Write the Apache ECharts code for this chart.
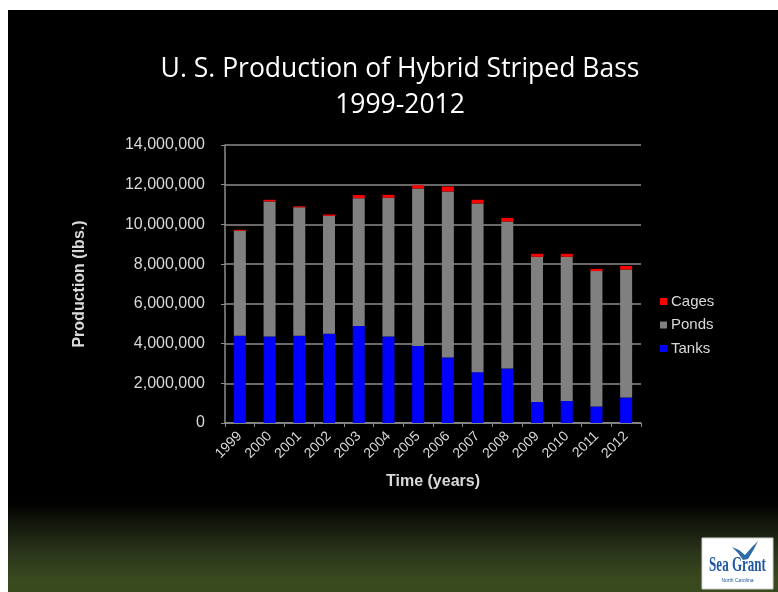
<!DOCTYPE html>
<html>
<head>
<meta charset="utf-8">
<script src="https://cdn.jsdelivr.net/npm/echarts@6/dist/echarts.min.js"></script>
<style>
  html, body { margin: 0; padding: 0; background: #fff; }
  #chart { width: 778px; height: 592px; }
</style>
</head>
<body>
<div id="chart"></div>
<script>
// Hybrid striped bass production by culture system, in pounds
const years = ['1999','2000','2001','2002','2003','2004','2005','2006','2007','2008','2009','2010','2011','2012'];
const tanks = [4400000, 4350000, 4400000, 4490000, 4890000, 4350000, 3880000, 3300000, 2560000, 2740000, 1060000, 1110000, 830000, 1280000];
const ponds = [5280000, 6810000, 6460000, 5940000, 6430000, 6990000, 7930000, 8360000, 8500000, 7410000, 7310000, 7260000, 6820000, 6450000];
const cages = [50000, 80000, 50000, 70000, 160000, 150000, 170000, 250000, 180000, 180000, 150000, 150000, 110000, 180000];
const yTicks = [0, 2000000, 4000000, 6000000, 8000000, 10000000, 12000000, 14000000];

const chart = echarts.init(document.getElementById('chart'));
const labelGrey = '#d9d9d9';
const sans = 'Liberation Sans, Arial, sans-serif';

const barSeries = (name, data, color) => ({
  name, type: 'bar', stack: 'total', data, barWidth: 12,
  itemStyle: { color }, emphasis: { disabled: true }
});

chart.setOption({
  backgroundColor: '#ffffff',
  animation: false,
  graphic: [
    {
      type: 'rect', z: -10, silent: true,
      shape: { x: 8, y: 10, width: 770, height: 582 },
      style: {
        fill: {
          type: 'linear', x: 0, y: 0, x2: 0, y2: 1,
          colorStops: [
            { offset: 0, color: '#000000' },
            { offset: 0.845, color: '#000000' },
            { offset: 0.93, color: '#29341a' },
            { offset: 0.98, color: '#3a4a1f' },
            { offset: 1, color: '#3a4a1f' }
          ]
        }
      }
    },
    {
      type: 'text', x: 400, y: 51, silent: true,
      style: {
        text: 'U. S. Production of Hybrid Striped Bass\n1999-2012',
        fill: '#ffffff', font: '26.5px "Open Sans", sans-serif',
        textAlign: 'center', textVerticalAlign: 'top', lineHeight: 36
      }
    },
    {
      // Sea Grant badge, lower right
      type: 'group', x: 702, y: 538, silent: true,
      children: [
        { type: 'rect', shape: { x: 0, y: 0, width: 71, height: 51 }, style: { fill: '#ffffff', stroke: '#d0d0d0', lineWidth: 1 } },
        {
          type: 'polygon',
          shape: { points: [[30, 9], [37, 12], [43, 17], [50, 9], [56, 3], [52, 11], [46, 21], [41, 22], [36, 15]] },
          style: { fill: '#2d6aa8' }
        },
        {
          type: 'text', x: 35.5, y: 17, scaleX: 0.62,
          style: { text: 'Sea Grant', fill: '#1f57a0', font: 'bold 21px "Liberation Serif", serif', textAlign: 'center', textVerticalAlign: 'top' }
        },
        {
          type: 'text', x: 35.5, y: 40,
          style: { text: 'North Carolina', fill: '#1f57a0', font: '5px "Liberation Sans", sans-serif', textAlign: 'center', textVerticalAlign: 'top' }
        }
      ]
    }
  ],
  legend: {
    orient: 'vertical',
    left: 655, top: 289,
    itemWidth: 7, itemHeight: 7, itemGap: 8.5,
    icon: 'rect',
    data: ['Cages', 'Ponds', 'Tanks'],
    textStyle: { color: labelGrey, fontFamily: sans, fontSize: 15, padding: [0, 0, 0, -1] }
  },
  grid: { left: 225, right: 137, top: 145, bottom: 169 },
  xAxis: {
    type: 'category', data: years,
    name: 'Time (years)', nameLocation: 'middle', nameGap: 51,
    nameTextStyle: { color: labelGrey, fontFamily: sans, fontSize: 16, fontWeight: 'bold' },
    axisLine: { lineStyle: { color: '#8c8c8c', width: 1.5 } },
    axisTick: { show: true, alignWithLabel: false, length: 4, lineStyle: { color: '#8c8c8c' } },
    axisLabel: { color: labelGrey, fontFamily: sans, fontSize: 14, rotate: 45, interval: 0, margin: 11 }
  },
  yAxis: {
    type: 'value', min: 0, max: 14000000, interval: 2000000,
    name: 'Production (lbs.)', nameLocation: 'middle', nameGap: 137, nameRotate: 90,
    nameTextStyle: { color: labelGrey, fontFamily: sans, fontSize: 16, fontWeight: 'bold' },
    axisLine: { show: true, lineStyle: { color: '#8c8c8c', width: 1.5 } },
    axisTick: { show: true, length: 4, lineStyle: { color: '#8c8c8c' } },
    splitLine: { lineStyle: { color: '#8c8c8c', width: 1.5 } },
    axisLabel: {
      color: labelGrey, fontFamily: sans, fontSize: 16, margin: 20,
      formatter: v => yTicks.includes(v) ? v.toLocaleString('en-US') : ''
    }
  },
  series: [
    barSeries('Tanks', tanks, '#0000ff'),
    barSeries('Ponds', ponds, '#808080'),
    barSeries('Cages', cages, '#ff0000')
  ]
});
</script>
</body>
</html>
